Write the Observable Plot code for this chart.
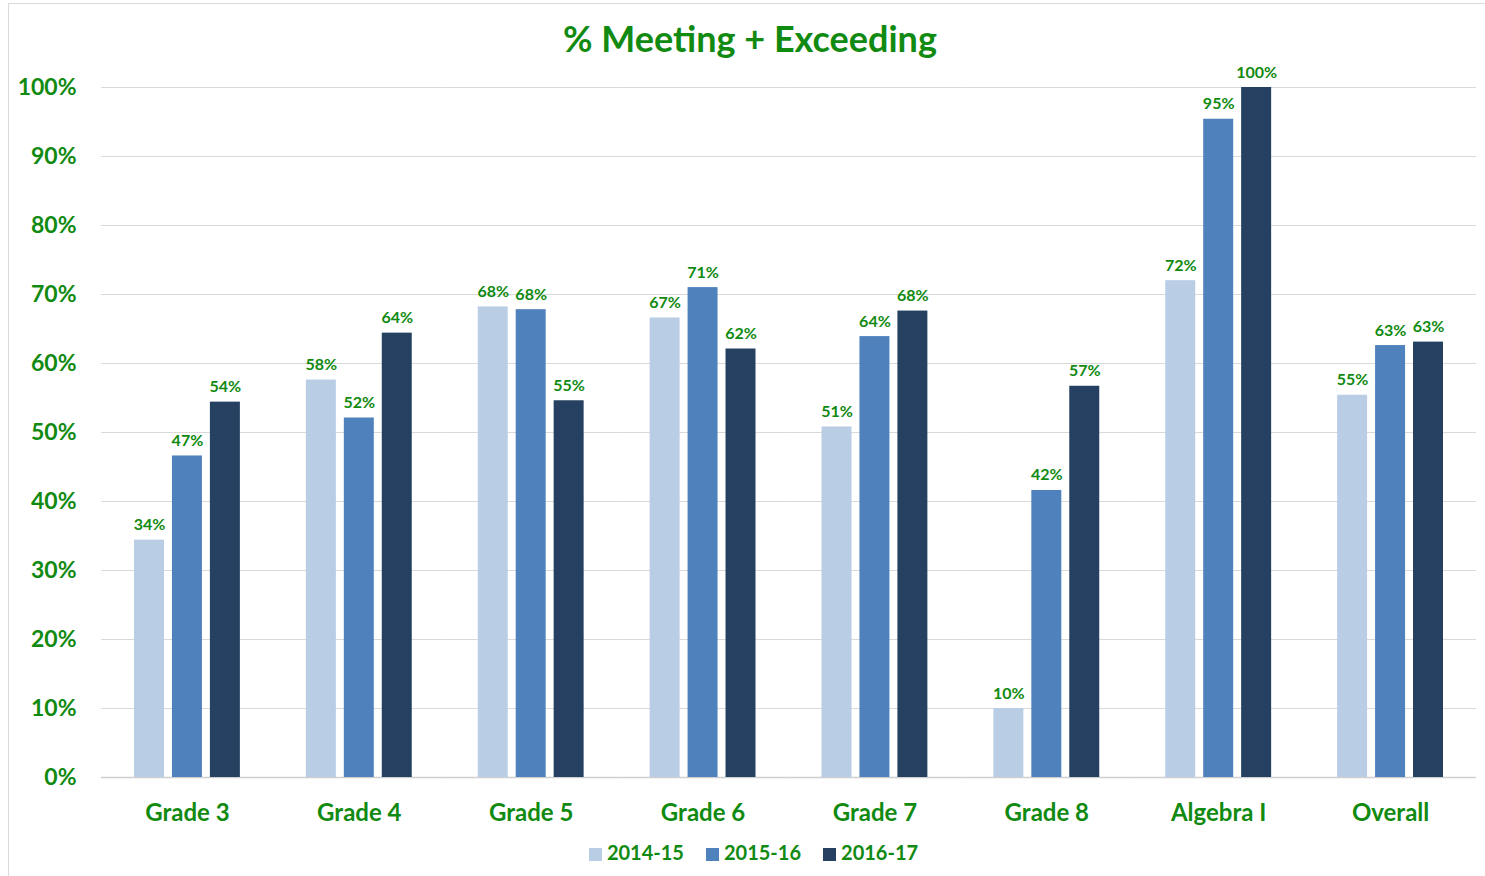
<!DOCTYPE html>
<html><head><meta charset="utf-8">
<script src="https://cdn.jsdelivr.net/npm/d3@7"></script>
<script src="https://cdn.jsdelivr.net/npm/@observablehq/plot@0.6"></script>
<style>
body{margin:0;background:#fff;overflow:hidden;font-family:Lato,"Open Sans",sans-serif}
#wrap{position:relative;width:1485px;height:876px;overflow:hidden}
#frame{position:absolute;left:8px;top:3px;width:1600px;height:1000px;border:1px solid #d9d9d9;box-sizing:border-box;pointer-events:none}
#title{height:50px;box-sizing:border-box;padding-top:16px;padding-left:15px;text-align:center;font-size:36px;line-height:44px;font-weight:700;color:#118a11;position:relative;z-index:1}
#chart svg{display:block;overflow:visible}
#legend{display:flex;justify-content:center;gap:22px;padding-left:22px;font-size:20px;font-weight:700;color:#118a11;line-height:24px}
#legend span.sw{display:inline-block;width:13px;height:13px;margin-right:5px;vertical-align:-1px}
</style></head>
<body>
<div id="wrap">
<div id="frame"></div>
<div id="title">% Meeting + Exceeding</div>
<div id="chart"></div>
<div id="legend"></div>
</div>
<script>
const categories = ["Grade 3","Grade 4","Grade 5","Grade 6","Grade 7","Grade 8","Algebra I","Overall"];
const years = ["2014-15","2015-16","2016-17"];
const v2014_15 = [34.4, 57.6, 68.2, 66.6, 50.8, 10.0, 72.0, 55.4];
const v2015_16 = [46.6, 52.1, 67.8, 71.0, 63.9, 41.6, 95.4, 62.6];
const v2016_17 = [54.4, 64.4, 54.6, 62.1, 67.6, 56.7, 100.0, 63.1];
const yTicks = [0,10,20,30,40,50,60,70,80,90,100];
const colors = ["#b9cde5","#4f81bd","#254061"];
const green = "#118a11";

const series = [v2014_15, v2015_16, v2016_17];
const data = categories.flatMap((c,i)=>years.map((y,j)=>({category:c, year:y, value:series[j][i]})));

const W = 1485, mL = 101, mR = 9;
const padIn = 0.384, padOut = 0.192;
// the gaps around each facet, so the grid rules join up across facets
const step = (W - mL - mR) / (categories.length - padIn + 2 * padOut);
const gapHalf = (step * padIn) / 2;
const outer = step * padOut;

const chart = Plot.plot({
  width:W, height:790,
  marginTop:37, marginBottom:63, marginLeft:mL, marginRight:mR,
  style:{fontFamily:"Lato, 'Open Sans', sans-serif", background:"transparent", overflow:"visible"},
  fx:{domain:categories, paddingInner:padIn, paddingOuter:padOut, round:false, label:null},
  x:{domain:years, axis:null, paddingInner:0.21, paddingOuter:0, round:false},
  y:{domain:[0,100], label:null},
  color:{domain:years, range:colors},
  marks:[
    Plot.ruleY(yTicks.filter(d=>d>0), {stroke:"#d9d9d9", strokeWidth:1, insetLeft:-gapHalf, insetRight:-gapHalf}),
    Plot.ruleY([0], {stroke:"#cfcfcf", strokeWidth:1.5, insetLeft:-gapHalf, insetRight:-gapHalf}),
    Plot.barY(data, {fx:"category", x:"year", y:"value", fill:"year"}),
    Plot.text(data, {fx:"category", x:"year", y:"value", text:d=>Math.round(d.value)+"%", dy:-10, lineAnchor:"bottom", fill:green, fontWeight:"bold", fontSize:16}),
    Plot.axisY({ticks:yTicks, tickFormat:d=>d+"%", tickSize:0, tickPadding:25 + outer, fontSize:23, fontWeight:"bold", color:green, label:null}),
    Plot.axisFx({anchor:"bottom", tickSize:0, tickPadding:26, fontSize:24, fontWeight:"bold", color:green, label:null})
  ]
});
document.getElementById("chart").appendChild(chart);

const legend = document.getElementById("legend");
years.forEach((y,i)=>{
  const item = document.createElement("div");
  item.innerHTML = `<span class="sw" style="background:${colors[i]}"></span>${y}`;
  legend.appendChild(item);
});
</script>
</body></html>
